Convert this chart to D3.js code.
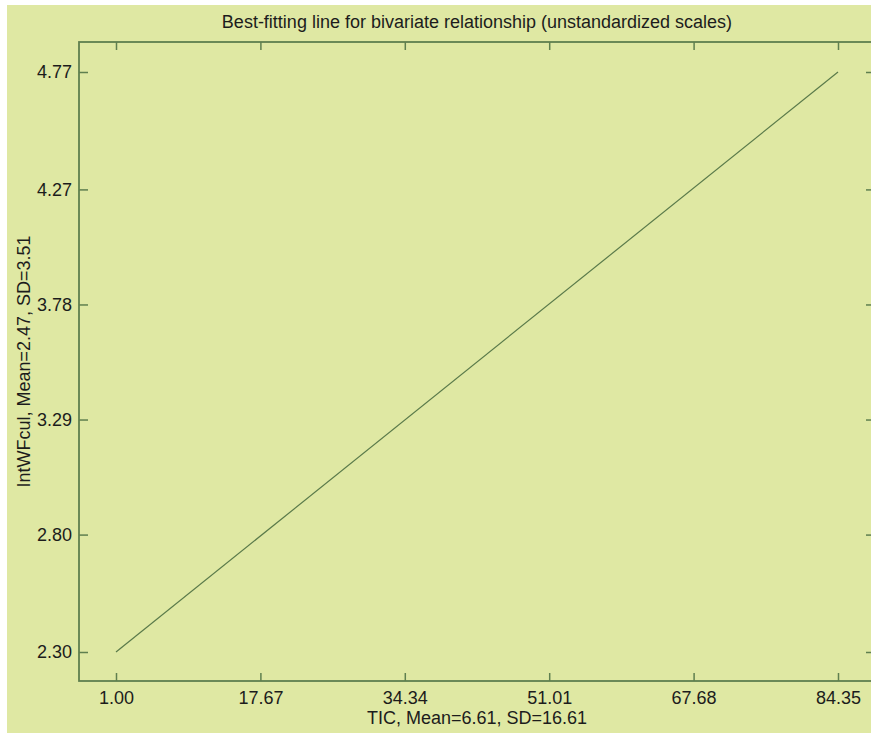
<!DOCTYPE html>
<html>
<head>
<meta charset="utf-8">
<script src="https://cdn.jsdelivr.net/npm/d3@7"></script>
<style>
  html, body { margin: 0; padding: 0; background: #ffffff; }
  svg { display: block; }
  text { font-family: "Liberation Sans", Arial, sans-serif; fill: #1c1c1c; }
</style>
</head>
<body>
<svg id="chart" width="871" height="733"></svg>
<script>
const title = "Best-fitting line for bivariate relationship (unstandardized scales)";
const xTitle = "TIC, Mean=6.61, SD=16.61";
const yTitle = "IntWFcul, Mean=2.47, SD=3.51";
const xTicks = [1.00, 17.67, 34.34, 51.01, 67.68, 84.35];
const yTicks = [2.30, 2.80, 3.29, 3.78, 4.27, 4.77];
const lineX = [1.00, 84.35];
const lineY = [2.30, 4.77];

(function () {
const W = 871, H = 733;
const frame = { left: 79, top: 42, right: 875, bottom: 681 };
const bg = "#dfe8a3";
const axisColor = "#5f7f4f";

const svg = d3.select("#chart");
svg.append("rect").attr("x", 7).attr("y", 5).attr("width", W - 7).attr("height", H - 5).attr("fill", bg);

const x = d3.scaleLinear().domain([xTicks[0], xTicks[xTicks.length - 1]]).range([116, 838]);
const y = d3.scaleLinear().domain([yTicks[0], yTicks[yTicks.length - 1]]).range([652, 72]);

svg.append("rect")
  .attr("x", frame.left).attr("y", frame.top)
  .attr("width", frame.right - frame.left).attr("height", frame.bottom - frame.top)
  .attr("fill", "none").attr("stroke", axisColor).attr("stroke-width", 1.8);

const fmt = d3.format(".2f");

const gBottom = svg.append("g").attr("transform", `translate(0,${frame.bottom})`)
  .call(d3.axisBottom(x).tickValues(xTicks).tickSize(-8).tickFormat(fmt));
const gTop = svg.append("g").attr("transform", `translate(0,${frame.top})`)
  .call(d3.axisTop(x).tickValues(xTicks).tickSize(-8).tickFormat(""));
const gLeft = svg.append("g").attr("transform", `translate(${frame.left},0)`)
  .call(d3.axisLeft(y).tickValues(yTicks).tickSize(-9).tickPadding(0).tickFormat(fmt));
const gRight = svg.append("g").attr("transform", `translate(${frame.right},0)`)
  .call(d3.axisRight(y).tickValues(yTicks).tickSize(-9).tickFormat(""));

[gBottom, gTop, gLeft, gRight].forEach(g => {
  g.select(".domain").remove();
  g.selectAll(".tick line").attr("stroke", axisColor).attr("stroke-width", 1.5);
  g.selectAll(".tick text").attr("fill", "#1a1a1a").style("font-size", "18px")
    .style("font-family", "\"Liberation Sans\", Arial, sans-serif");
});
gBottom.selectAll(".tick text").attr("dy", null).attr("y", 23);
gLeft.selectAll(".tick text").attr("x", -7);

svg.append("path")
  .datum(lineX.map((v, i) => [v, lineY[i]]))
  .attr("d", d3.line().x(d => x(d[0])).y(d => y(d[1])))
  .attr("fill", "none").attr("stroke", "#5a7a4a").attr("stroke-width", 1.2);

const cx = (frame.left + frame.right) / 2;
svg.append("text").attr("x", cx).attr("y", 28).attr("text-anchor", "middle")
  .style("font-size", "18px").text(title);
svg.append("text").attr("x", cx).attr("y", 724).attr("text-anchor", "middle")
  .style("font-size", "18px").text(xTitle);
svg.append("text").attr("transform", `translate(30,${(frame.top + frame.bottom) / 2}) rotate(-90)`)
  .attr("text-anchor", "middle").style("font-size", "18px").text(yTitle);
})();
</script>
</body>
</html>
